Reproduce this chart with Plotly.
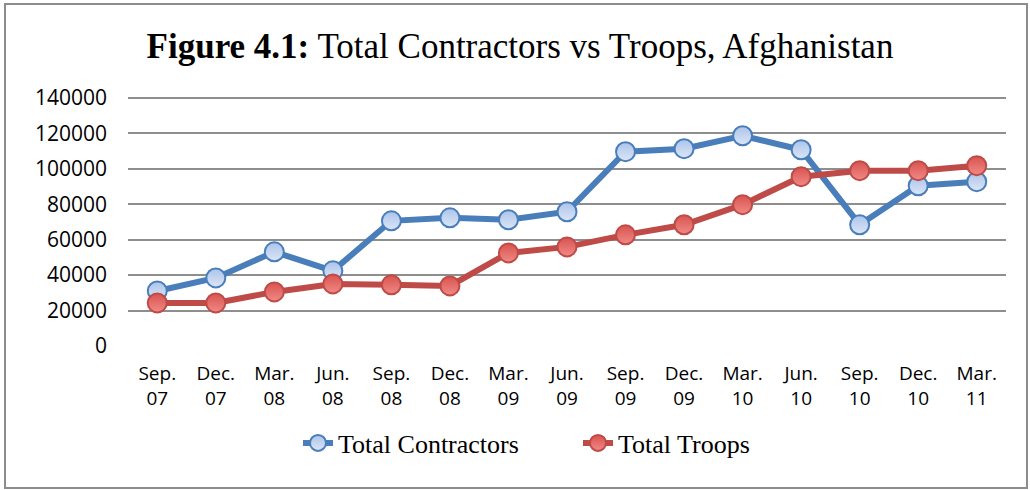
import plotly.graph_objects as go

categories = ["Sep.<br>07", "Dec.<br>07", "Mar.<br>08", "Jun.<br>08", "Sep.<br>08", "Dec.<br>08",
              "Mar.<br>09", "Jun.<br>09", "Sep.<br>09", "Dec.<br>09", "Mar.<br>10", "Jun.<br>10",
              "Sep.<br>10", "Dec.<br>10", "Mar.<br>11"]
contractors = [31000, 38400, 53100, 42400, 70600, 72300, 71200, 75700, 109600, 111300,
               118600, 110700, 68400, 90400, 92700]
troops = [24300, 24300, 30500, 35000, 34500, 33900, 52500, 55900, 62700, 68400,
          79700, 95500, 98900, 98900, 101700]
y_ticks = [0, 20000, 40000, 60000, 80000, 100000, 120000, 140000]

W, H = 1030, 490
ML, MR, MT, MB = 128, 24, 96, 144

fig = go.Figure()
fig.add_trace(go.Scatter(
    x=categories, y=contractors, name="Total Contractors", mode="lines+markers",
    line=dict(color="#4A7EBB", width=6),
    marker=dict(size=19, color="#ABC4EA", line=dict(color="#4A7EBB", width=2),
                gradient=dict(type="vertical", color="#DCE6F6")),
))
fig.add_trace(go.Scatter(
    x=categories, y=troops, name="Total Troops", mode="lines+markers",
    line=dict(color="#BE4B48", width=6),
    marker=dict(size=19, color="#D9534F", line=dict(color="#BE4B48", width=2),
                gradient=dict(type="vertical", color="#F08A86")),
))

pw = W - ML - MR
ph = H - MT - MB
def px_x(p):
    return (p - ML) / pw
def px_y(p):
    return (H - MB - p) / ph

fig.add_shape(type="rect", xref="paper", yref="paper",
              x0=px_x(5), x1=px_x(1027), y0=px_y(488), y1=px_y(4),
              line=dict(color="#8C8C8C", width=2), fillcolor="rgba(0,0,0,0)", layer="below")

fig.update_layout(
    width=W, height=H,
    margin=dict(l=ML, r=MR, t=MT, b=MB),
    paper_bgcolor="white", plot_bgcolor="white",
    title=dict(text="<b>Figure 4.1:</b> Total Contractors vs Troops, Afghanistan",
               font=dict(family="Liberation Serif", size=35, color="black"),
               x=520 / W, xanchor="center", y=1 - 46 / H, yanchor="middle"),
    xaxis=dict(type="category", showgrid=False, zeroline=False, showline=False,
               ticks="", tickfont=dict(family="Open Sans", size=19, color="black"),
               ticklabelstandoff=14,
               range=[-0.5, len(categories) - 0.5]),
    yaxis=dict(range=[0, 141000], tickvals=y_ticks, ticktext=[str(v) for v in y_ticks],
               showgrid=True, gridcolor="#8E8E8E", gridwidth=2, zeroline=False,
               showline=False, ticks="", ticklabelstandoff=20,
               tickfont=dict(family="Open Sans", size=21, color="black")),
    legend=dict(orientation="h", x=px_x(298), xanchor="left",
                y=px_y(443), yanchor="middle",
                font=dict(family="Liberation Serif", size=26, color="black"),
                entrywidth=235, entrywidthmode="pixels",
                bgcolor="rgba(0,0,0,0)"),
    showlegend=True,
)

fig.write_html("out.html", config={"displayModeBar": False},
               post_script="document.body.style.margin='0';")
